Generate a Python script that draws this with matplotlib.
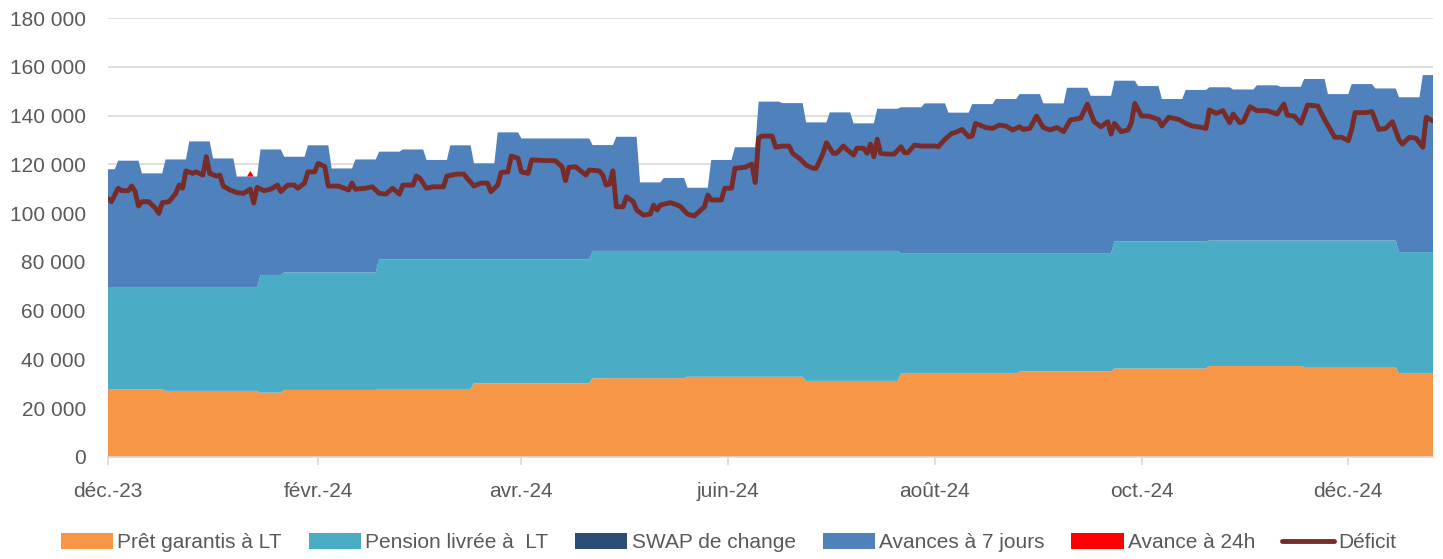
import numpy as np
import pandas as pd
import matplotlib
matplotlib.use("Agg")
from matplotlib import pyplot as plt
from matplotlib.ticker import FuncFormatter

plt.rcParams["font.family"] = ["Liberation Sans", "DejaVu Sans"]

# weekly values (week 0 = 1-3 Dec 2023, then weeks starting on Mondays)
pret = ([27800] * 3 + [27100] * 4 + [26400] + [27500] * 4 + [27900] * 4
        + [30200] * 5 + [32300] * 4 + [32900] * 5 + [31200] * 4 + [34200] * 5
        + [35100] * 4 + [36300] * 4 + [37300] * 4 + [36900] * 4 + [34200] * 2)
pension = ([41600] * 3 + [42300] * 4 + [48200] * 5 + [53100] * 4 + [50800] * 5
           + [52200] * 4 + [51600] * 5 + [53300] * 4 + [49400] * 5 + [48500] * 4
           + [52100] * 4 + [51500] * 4 + [51900] * 4 + [49800] * 2)
swap = [0] * 57
avances_7j = [48600, 52100, 46900, 52600, 60000, 53000, 45600, 51500, 47400, 52100,
              42600, 46300, 44200, 45100, 40800, 46800, 39400, 52100, 49600, 49600,
              49600, 43400, 46800, 28100, 29900, 25900, 37300, 42500, 61200, 60600,
              52700, 56800, 52300, 58300, 59800, 61400, 57600, 61100, 63200, 65200,
              61400, 67800, 64500, 65900, 63700, 58400, 62100, 62800, 61900, 63600,
              63000, 66200, 60000, 64100, 62300, 63500, 72600]

# daily overnight advance (only one day non zero)
avance_24h_dates = ["2024-01-12"]
avance_24h_vals = [2300]

# deficit: day offset from 1 Dec 2023, value
deficit_day = [0, 1, 3, 4, 6, 7, 8, 9, 10, 12, 14, 15, 16, 18, 20, 21, 22, 23, 25, 26,
               28, 29, 30, 32, 33, 34, 36, 38, 40, 42, 43, 44, 46, 48, 50, 51, 53, 55, 56, 58,
               59, 61, 62, 64, 65, 68, 71, 72, 73, 76, 78, 80, 82, 84, 86, 87, 90, 91, 92, 94,
               96, 99, 100, 103, 105, 106, 108, 110, 112, 113, 115, 116, 118, 119, 121, 122, 124, 125, 130, 132,
               134, 135, 136, 138, 140, 141, 142, 145, 146, 147, 148, 149, 150, 152, 153, 155, 156, 158, 160, 161,
               162, 163, 166, 168, 169, 171, 173, 175, 176, 177, 178, 181, 182, 184, 185, 188, 190, 191, 192, 193,
               196, 197, 199, 201, 202, 204, 206, 208, 209, 211, 212, 214, 215, 217, 218, 220, 221, 223, 224, 225,
               226, 227, 228, 230, 232, 234, 235, 236, 238, 240, 244, 245, 247, 249, 250, 252, 254, 255, 256, 259,
               261, 263, 265, 267, 269, 270, 272, 274, 276, 278, 280, 282, 284, 287, 289, 291, 293, 295, 296, 297,
               299, 301, 302, 303, 305, 307, 310, 311, 313, 316, 318, 320, 323, 324, 325, 327, 329, 331, 332, 334,
               335, 337, 339, 342, 345, 347, 348, 350, 352, 354, 357, 359, 362, 364, 366, 367, 368, 371, 373, 375,
               377, 379, 381, 382, 384, 386, 388, 389, 391]
deficit_vals = [106000, 104700, 110200, 109200, 109200, 111100, 108800, 102900, 104700, 104700,
                102000, 99900, 104300, 104700, 108100, 111500, 110200, 117300, 116300, 116900,
                115600, 123100, 116300, 115200, 115600, 111100, 109500, 108400, 108100, 109800,
                104100, 110600, 109200, 109800, 111500, 108800, 111500, 111500, 110200, 112300,
                116900, 116900, 120400, 119000, 111100, 111100, 109500, 112300, 109800, 110200,
                110800, 108100, 107800, 110200, 107800, 111500, 111500, 115200, 114300, 110200,
                110800, 110800, 115200, 116000, 116000, 114300, 111100, 112300, 112300, 108800,
                111500, 116700, 116900, 123400, 122500, 116900, 116300, 121800, 121500, 121500,
                119000, 113300, 118800, 119000, 116700, 115600, 117700, 117300, 115600, 111500,
                111900, 117300, 102600, 102600, 106700, 104700, 101300, 99200, 99600, 103300,
                101300, 103300, 104300, 103300, 102600, 99600, 98800, 101300, 102600, 107400,
                105400, 105400, 110200, 110200, 118400, 118800, 120100, 112500, 130700, 131600,
                131600, 127000, 127500, 127500, 124500, 122500, 119700, 118400, 118400, 124500,
                128900, 124500, 124500, 127500, 126100, 123800, 126600, 126600, 124500, 128300,
                123100, 130300, 124500, 124200, 124200, 127200, 124800, 124800, 127900, 127500,
                127500, 127200, 130300, 132700, 133000, 134300, 131300, 131600, 136800, 135100,
                134700, 136100, 135700, 134100, 135400, 134300, 134700, 139800, 135100, 134100,
                135100, 133400, 138200, 138900, 144700, 137500, 135400, 137500, 132400, 136800,
                133400, 134100, 137100, 145000, 139800, 139800, 138400, 135700, 139300, 138400,
                136800, 135700, 135100, 134700, 142300, 140900, 142000, 137100, 140600, 137100,
                137500, 143600, 142000, 142000, 140600, 144700, 140200, 139800, 136800, 144300,
                143900, 138400, 131100, 131100, 129700, 134300, 141200, 141200, 141600, 134300,
                134700, 137500, 130000, 128300, 131100, 130700, 127000, 139300, 137800]

tick_dates = ["2023-12-01", "2024-02-01", "2024-04-01", "2024-06-01",
              "2024-08-01", "2024-10-01", "2024-12-01"]
tick_labels = ["déc.-23", "févr.-24", "avr.-24", "juin-24", "août-24", "oct.-24", "déc.-24"]

labels = ["Prêt garantis à LT", "Pension livrée à  LT", "SWAP de change",
          "Avances à 7 jours", "Avance à 24h"]
colors = ["#F79646", "#4BACC6", "#2C4D75", "#4F81BD", "#FF0000"]
grey = "#595959"


def main():
    start = pd.Timestamp("2023-12-01")
    dates = pd.date_range(start, "2024-12-27", freq="D")
    days = np.arange(len(dates))
    week = np.where(days < 3, 0, 1 + (days - 3) // 7)

    a24 = pd.Series(0.0, index=dates)
    for d, v in zip(avance_24h_dates, avance_24h_vals):
        a24[pd.Timestamp(d)] = v

    series = [np.array(pret)[week], np.array(pension)[week], np.array(swap)[week],
              np.array(avances_7j)[week], a24.values]

    fig = plt.figure(figsize=(14.43, 5.59), dpi=100)
    ax = fig.add_axes([108 / 1443, 1 - 457 / 559, (1433 - 108) / 1443, (457 - 18) / 559])

    polys = ax.stackplot(dates, *series, colors=colors, labels=labels, linewidth=0)
    def_dates = start + pd.to_timedelta(deficit_day, unit="D")
    line, = ax.plot(def_dates, deficit_vals, color="#772C2A", lw=3.5, label="Déficit",
                    solid_joinstyle="round", solid_capstyle="round")

    ax.set_ylim(0, 180000)
    ax.set_yticks(np.arange(0, 180001, 20000))
    ax.yaxis.set_major_formatter(FuncFormatter(lambda v, p: f"{v:,.0f}".replace(",", " ")))
    ax.set_xlim(start, start + pd.Timedelta(days=391))
    ax.set_xticks(pd.to_datetime(tick_dates))
    ax.set_xticklabels(tick_labels)

    ax.grid(axis="y", color="#d9d9d9", lw=1.2)
    ax.set_axisbelow(True)
    for s in ["left", "right", "top"]:
        ax.spines[s].set_visible(False)
    ax.spines["bottom"].set_color("#d9d9d9")
    ax.spines["bottom"].set_linewidth(1.2)
    ax.spines["bottom"].set_zorder(5)
    ax.tick_params(axis="y", length=0, labelsize=15, labelcolor=grey, pad=16)
    ax.tick_params(axis="x", length=6, color="#d9d9d9", width=1.2, labelsize=15,
                   labelcolor=grey, pad=12)

    fig.legend(handles=list(polys) + [line], loc="center", bbox_to_anchor=(0.505, 0.029),
               ncol=6, frameon=False, fontsize=15, handlelength=2.5, handleheight=0.75,
               handletextpad=0.2, columnspacing=1.3, labelcolor=grey)

    fig.savefig("out.png", dpi=100)


if __name__ == "__main__":
    main()
